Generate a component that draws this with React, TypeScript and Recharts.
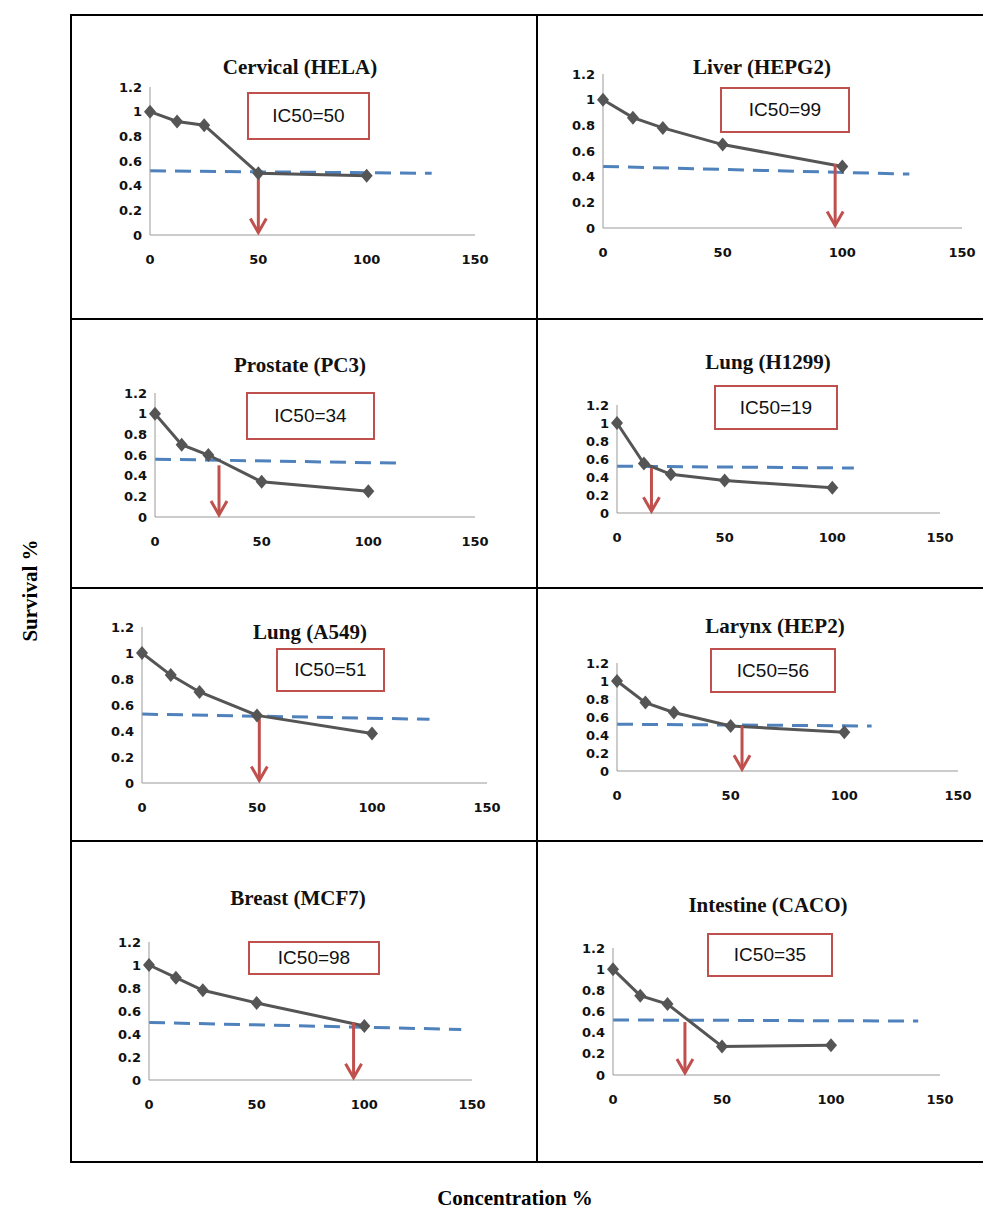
import { LineChart, Line, XAxis, YAxis, ReferenceLine, ReferenceDot } from 'recharts';

const conc = [0, 12.5, 25, 50, 100];
const titles = ['Cervical (HELA)', 'Liver (HEPG2)', 'Prostate (PC3)', 'Lung (H1299)', 'Lung (A549)', 'Larynx (HEP2)', 'Breast (MCF7)', 'Intestine (CACO)'];
const ic50 = [50, 99, 34, 19, 51, 56, 98, 35];
const arrowX = [50, 97, 30, 16, 51, 55, 95, 33];
const survival = [
  [1, 0.92, 0.89, 0.5, 0.48],
  [1, 0.86, 0.78, 0.65, 0.48],
  [1, 0.7, 0.6, 0.34, 0.25],
  [1, 0.55, 0.43, 0.36, 0.28],
  [1, 0.83, 0.7, 0.52, 0.38],
  [1, 0.76, 0.65, 0.5, 0.43],
  [1, 0.89, 0.78, 0.67, 0.47],
  [1, 0.75, 0.67, 0.27, 0.28],
];
// dashed 50% guide: [start y, end x, end y]
const guide = [
  [0.52, 130, 0.5],
  [0.48, 128, 0.42],
  [0.56, 117, 0.52],
  [0.52, 110, 0.5],
  [0.53, 125, 0.49],
  [0.52, 112, 0.5],
  [0.5, 145, 0.44],
  [0.52, 140, 0.51],
];
const xTicks = [0, 50, 100, 150];
const yTicks = [0, 0.2, 0.4, 0.6, 0.8, 1, 1.2];

// panel layout: left, top, height, plot box (l, t, r, b), title centre/top, IC50 box
const panels = [
  { x: 70, y: 14, h: 304, p: [80, 73, 405, 221], t: [230, 54], b: [177, 78, 123, 48] },
  { x: 537, y: 14, h: 304, p: [66, 60, 425, 214], t: [225, 54], b: [183, 73, 130, 46] },
  { x: 70, y: 318, h: 269, p: [85, 75, 405, 199], t: [230, 48], b: [176, 74, 129, 48] },
  { x: 537, y: 318, h: 269, p: [80, 87, 403, 195], t: [231, 45], b: [177, 67, 124, 45] },
  { x: 70, y: 587, h: 253, p: [72, 40, 417, 196], t: [240, 46], b: [206, 61, 109, 44] },
  { x: 537, y: 587, h: 253, p: [80, 76, 421, 184], t: [238, 40], b: [173, 61, 126, 45] },
  { x: 70, y: 840, h: 323, p: [79, 102, 402, 240], t: [228, 59], b: [178, 101, 132, 34] },
  { x: 537, y: 840, h: 323, p: [76, 108, 403, 235], t: [231, 66], b: [170, 93, 126, 44] },
];

const Diamond = (props: any) => {
  const { cx, cy } = props;
  if (cx == null) return null;
  return <path d={`M${cx},${cy - 7}L${cx + 6},${cy}L${cx},${cy + 7}L${cx - 6},${cy}Z`} fill="#555" />;
};

const ArrowHead = (props: any) => {
  const { cx, cy } = props;
  return <path d={`M${cx - 8},${cy - 14}L${cx},${cy}L${cx + 8},${cy - 14}`} fill="none" stroke="#c0504d" strokeWidth={3} />;
};

const tickStyle = { fontFamily: 'DejaVu Sans, Arial', fontWeight: 700, fontSize: 13, fill: '#111' };

function Panel({ i }: { i: number }) {
  const pl = panels[i];
  const W = 466;
  const [l, t, r, b] = pl.p;
  const data = conc.map((c, k) => ({ c, s: survival[i][k] }));
  const g = guide[i];
  const guideData = [{ c: 0, s: g[0] }, { c: g[1], s: g[2] }];
  return (
    <div style={{ position: 'absolute', left: pl.x, top: pl.y, width: W, height: pl.h }}>
      <LineChart width={W} height={pl.h} margin={{ left: l - 40, top: t, right: W - r, bottom: pl.h - b - 30 }}>
        <XAxis type="number" dataKey="c" domain={[0, 150]} ticks={xTicks} interval={0} tick={tickStyle} tickMargin={14} stroke="#999" tickLine={false} height={30} allowDuplicatedCategory={false} />
        <YAxis type="number" domain={[0, 1.2]} ticks={yTicks} interval={0} tick={tickStyle} stroke="#999" tickLine={false} width={40} />
        <Line data={guideData} dataKey="s" stroke="#4f81bd" strokeWidth={3} strokeDasharray="16 9" dot={false} isAnimationActive={false} />
        <Line data={data} dataKey="s" stroke="#555" strokeWidth={3} dot={<Diamond />} isAnimationActive={false} />
        <ReferenceLine segment={[{ x: arrowX[i], y: 0.5 }, { x: arrowX[i], y: 0.02 }]} stroke="#c0504d" strokeWidth={3} />
        <ReferenceDot x={arrowX[i]} y={0.02} r={1} shape={<ArrowHead />} />
      </LineChart>
      <div style={{ position: 'absolute', left: 0, top: pl.t[1] - 13, width: pl.t[0] * 2, textAlign: 'center', fontFamily: 'Liberation Serif, serif', fontWeight: 700, fontSize: 21, color: '#111', whiteSpace: 'nowrap' }}>
        {titles[i]}
      </div>
      <div style={{ position: 'absolute', left: pl.b[0], top: pl.b[1], width: pl.b[2], height: pl.b[3], boxSizing: 'border-box', border: '2px solid #c0504d', background: '#fff', display: 'flex', alignItems: 'center', justifyContent: 'center', fontFamily: 'Liberation Sans, Arial', fontSize: 19, color: '#111' }}>
        IC50={ic50[i]}
      </div>
    </div>
  );
}

export default function App() {
  return (
    <div style={{ position: 'relative', width: 991, height: 1213, margin: -8, background: '#fff', overflow: 'hidden' }}>
      <div style={{ position: 'absolute', left: 70, top: 14, width: 930, height: 1149, border: '2px solid #000', boxSizing: 'border-box' }} />
      <div style={{ position: 'absolute', left: 536, top: 14, width: 2, height: 1149, background: '#000' }} />
      {[318, 587, 840].map((y) => (
        <div key={y} style={{ position: 'absolute', left: 70, top: y, width: 930, height: 2, background: '#000' }} />
      ))}
      {panels.map((_, i) => <Panel key={i} i={i} />)}
      <div style={{ position: 'absolute', left: -30, top: 578, width: 120, textAlign: 'center', transform: 'rotate(-90deg)', fontFamily: 'Liberation Serif, serif', fontWeight: 700, fontSize: 21 }}>Survival %</div>
      <div style={{ position: 'absolute', left: 0, top: 1186, width: 1030, textAlign: 'center', fontFamily: 'Liberation Serif, serif', fontWeight: 700, fontSize: 21 }}>Concentration %</div>
    </div>
  );
}
